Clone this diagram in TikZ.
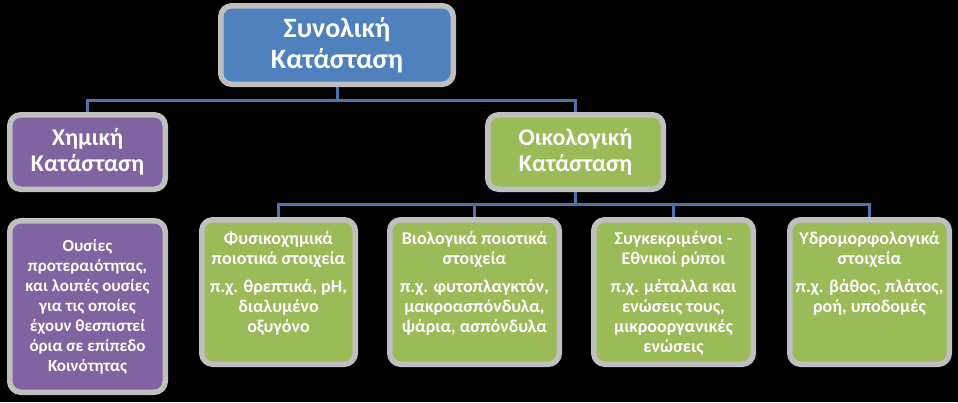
\documentclass[tikz,border=0pt]{standalone}
\usepackage{fontspec}
\setmainfont{Carlito}
\usepackage{xcolor}
\usetikzlibrary{positioning}

\definecolor{rootblue}{HTML}{4F81BD}
\definecolor{chempurple}{HTML}{8064A2}
\definecolor{leafgreen}{HTML}{9BBB59}
\definecolor{rim}{HTML}{BFBFBF}
\definecolor{linkblue}{HTML}{4A74AA}

% top-aligned text inside a fixed-size box
\newcommand{\cell}[3]{\parbox[c][#2][t]{#1}{\centering #3}}

\begin{document}
\begin{tikzpicture}[
    x=1pt, y=-1pt,
    node distance=26pt and 29pt,
    card/.style={draw=rim, line width=5.5pt, rounded corners=11pt, text=white, inner sep=0pt},
    root/.style={card, fill=rootblue, align=center, minimum width=232.5pt, minimum height=78.5pt, font=\fontsize{28}{31}\selectfont\bfseries},
    branch/.style={card, align=center, minimum height=74.5pt, font=\fontsize{24}{26}\selectfont\bfseries},
    leaf/.style={card, fill=leafgreen, minimum height=144.5pt, font=\fontsize{18}{20}\selectfont\bfseries},
    link/.style={draw=linkblue, line width=3pt}
]
\fill[black] (0,0) rectangle (958,402);

\node[root] (total) at (337,45) {Συνολική\\Κατάσταση};
\node[branch, fill=chempurple, minimum width=155.5pt] (chem) at (87.5,152) {Χημική\\Κατάσταση};
\node[branch, fill=leafgreen, minimum width=175.5pt] (eco) at (575.5,152) {Οικολογική\\Κατάσταση};

\node[card, fill=chempurple, below=of chem, align=center, minimum width=155.5pt, minimum height=171.5pt,
      font=\fontsize{17}{20}\selectfont\bfseries] (subst)
    {Ουσίες\\προτεραιότητας,\\και λοιπές ουσίες\\για τις οποίες\\έχουν θεσπιστεί\\όρια σε επίπεδο\\Κοινότητας};

\node[leaf, minimum width=153.5pt] (phys) at (278.5,292)
    {\cell{150pt}{120pt}{Φυσικοχημικά\\ποιοτικά στοιχεία\par\vspace{8pt}π.χ. θρεπτικά, pH,\\διαλυμένο\\οξυγόνο}};
\node[leaf, right=of phys, minimum width=169.5pt] (bio)
    {\cell{166pt}{120pt}{Βιολογικά ποιοτικά\\στοιχεία\par\vspace{8pt}π.χ. φυτοπλαγκτόν,\\μακροασπόνδυλα,\\ψάρια, ασπόνδυλα}};
\node[leaf, right=of bio, minimum width=159.5pt] (poll)
    {\cell{156pt}{120pt}{Συγκεκριμένοι -\\Εθνικοί ρύποι\par\vspace{8pt}π.χ. μέταλλα και\\ενώσεις τους,\\μικροοργανικές\\ενώσεις}};
\node[leaf, right=31pt of poll, minimum width=159.5pt] (hydro)
    {\cell{156pt}{120pt}{Υδρομορφολογικά\\στοιχεία\par\vspace{8pt}π.χ. βάθος, πλάτος,\\ροή, υποδομές}};

\coordinate (bus1) at ([yshift=-13pt]total.south);
\draw[link] (total.south) -- (bus1) -| (chem.north);
\draw[link] (bus1) -| (eco.north);

\coordinate (bus2) at ([yshift=-12pt]eco.south);
\draw[link] (eco.south) -- (bus2) -| (phys.north);
\draw[link] (bus2) -| (bio.north);
\draw[link] (bus2) -| (poll.north);
\draw[link] (bus2) -| (hydro.north);
\end{tikzpicture}
\end{document}
